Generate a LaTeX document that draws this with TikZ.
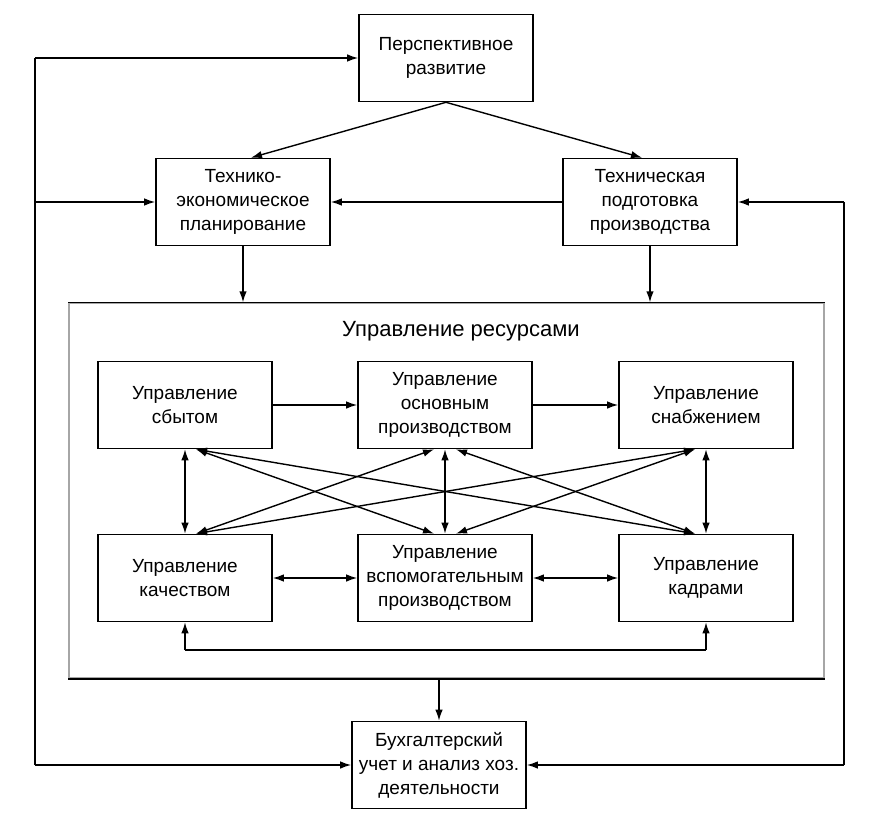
\documentclass[tikz,border=0pt]{standalone}
\usepackage{fontspec}
\setmainfont{Liberation Sans}
\usetikzlibrary{arrows.meta,calc}
\begin{document}
\begin{tikzpicture}[x=1pt,y=-1pt,
  box/.style={draw,line width=1.6pt,align=center,inner sep=0pt,
    minimum width=174pt,minimum height=87pt,
    font=\fontsize{19}{24}\selectfont},
  ln/.style={line width=1.4pt},
  arr/.style={ln,-{Latex[length=11pt,width=7.5pt]}},
  darr/.style={ln,{Latex[length=11pt,width=7.5pt]}-{Latex[length=11pt,width=7.5pt]}}]
\useasboundingbox (0,0) rectangle (889,829);
% outer boxes
\node[box] (top) at (446,58) {Перспективное\\развитие};
\node[box] (tep) at (243,202) {Технико-\\экономическое\\планирование};
\node[box] (tpp) at (650,202) {Техническая\\подготовка\\производства};
\node[draw=gray!70,line width=1.4pt,minimum width=755pt,minimum height=375pt,inner sep=0pt] (frame) at (446.5,490.5) {};
\draw[line width=1.6pt] (frame.north west) -- (frame.north east);
\draw[line width=1.6pt] (frame.south west) -- (frame.south east);
\node[font=\fontsize{22}{26}\selectfont] (title) at (461,331) {Управление ресурсами};
\node[box] (buh) at (439,765) {Бухгалтерский\\учет и анализ хоз.\\деятельности};
% inner boxes
\node[box] (sbyt) at (185,405) {Управление\\сбытом};
\node[box] (osn) at (445,405) {Управление\\основным\\производством};
\node[box] (snab) at (706,405) {Управление\\снабжением};
\node[box] (kach) at (185,578) {Управление\\качеством};
\node[box] (vsp) at (445,578) {Управление\\вспомогательным\\производством};
\node[box] (kadr) at (706,578) {Управление\\кадрами};
% top arrows
\draw[arr] (top.south) -- ($(tep.north)+(8,0)$);
\draw[arr] (top.south) -- ($(tpp.north)+(-8,0)$);
\draw[arr] (tpp.west) -- (tep.east);
\draw[arr] (tep.south) -- (tep.south|-frame.north);
\draw[arr] (tpp.south) -- (tpp.south|-frame.north);
\draw[arr] (frame.south-|buh.north) -- (buh.north);
% left loop
\coordinate (L1) at (35,58);
\coordinate (L2) at (35,765);
\draw[ln] (L2) -- (L1);
\draw[arr] (L1) -- (top.west);
\draw[arr] (L1|-tep.west) -- (tep.west);
\draw[arr] (L2) -- (buh.west);
% right loop
\coordinate (R1) at (844,202);
\coordinate (R2) at (844,765);
\draw[ln] (R1) -- (R2);
\draw[arr] (R1) -- (tpp.east);
\draw[arr] (R2) -- (buh.east);
% inner horizontal
\draw[arr] (sbyt.east) -- (osn.west);
\draw[arr] (osn.east) -- (snab.west);
\draw[darr] (kach.east) -- (vsp.west);
\draw[darr] (vsp.east) -- (kadr.west);
% verticals
\draw[darr] (sbyt.south) -- (kach.north);
\draw[darr] (osn.south) -- (vsp.north);
\draw[darr] (snab.south) -- (kadr.north);
% diagonals
\draw[darr] ($(sbyt.south)+(11,0)$) -- ($(vsp.north)+(-11,0)$);
\draw[darr] ($(sbyt.south)+(11,0)$) -- ($(kadr.north)+(-11,0)$);
\draw[darr] ($(osn.south)+(-11,0)$) -- ($(kach.north)+(11,0)$);
\draw[darr] ($(osn.south)+(11,0)$) -- ($(kadr.north)+(-11,0)$);
\draw[darr] ($(snab.south)+(-11,0)$) -- ($(kach.north)+(11,0)$);
\draw[darr] ($(snab.south)+(-11,0)$) -- ($(vsp.north)+(11,0)$);
% bottom bracket
\coordinate (B1) at (185,650);
\coordinate (B2) at (706,650);
\draw[ln] (B1) -- (B2);
\draw[arr] (B1) -- (kach.south);
\draw[arr] (B2) -- (kadr.south);
\end{tikzpicture}
\end{document}
